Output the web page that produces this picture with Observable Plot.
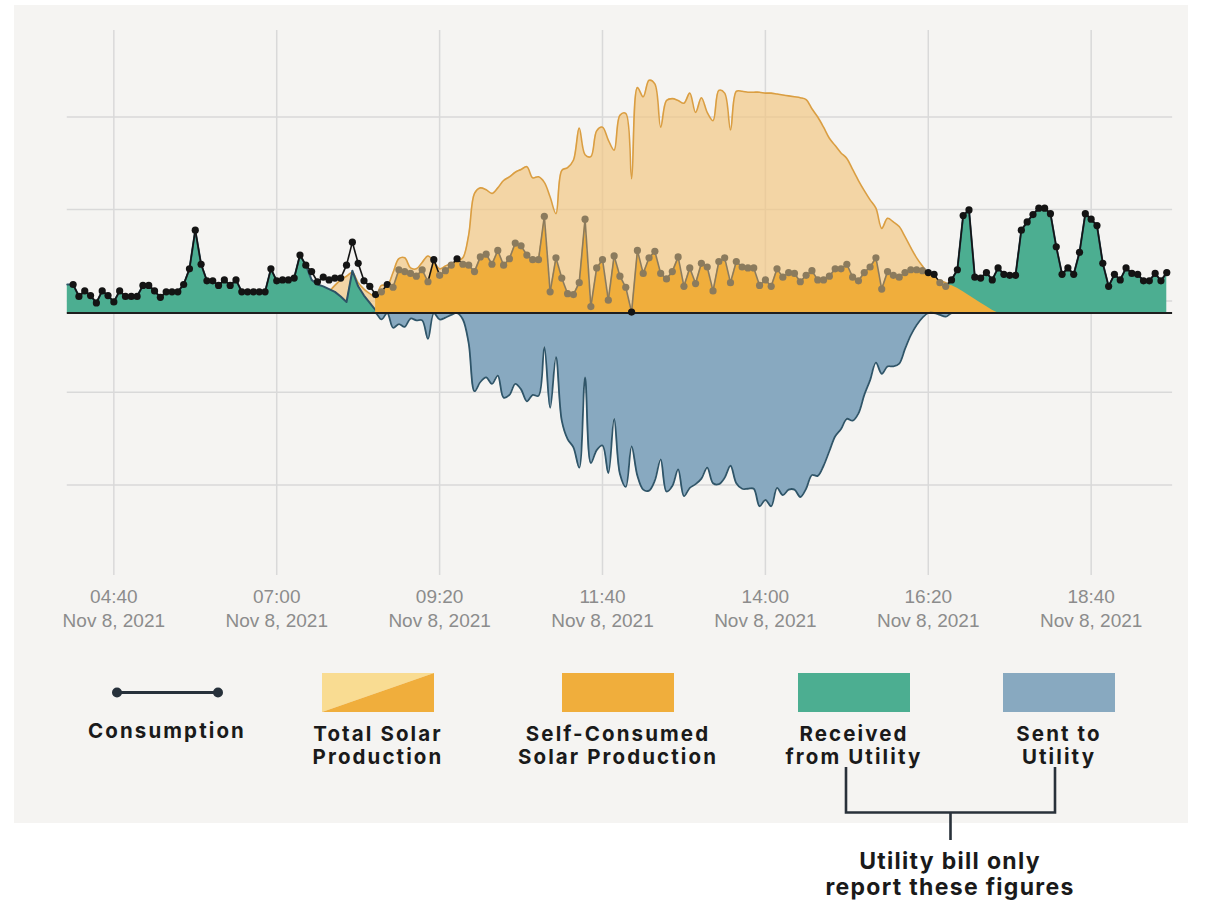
<!DOCTYPE html>
<html>
<head>
<meta charset="utf-8">
<script src="https://cdn.jsdelivr.net/npm/d3@7"></script>
<script src="https://cdn.jsdelivr.net/npm/@observablehq/plot@0.6"></script>
<style>
  html, body { margin: 0; padding: 0; background: #ffffff; }
  body { width: 1220px; height: 900px; position: relative; overflow: hidden; }
  #panel { position: absolute; left: 14px; top: 5px; width: 1174px; height: 818px; background: #f5f4f2; }
  #chart { position: absolute; left: 0; top: 0; }
  #overlay { position: absolute; left: 0; top: 0; }
</style>
</head>
<body>
<div id="panel"><div id="chart"></div></div>
<svg id="overlay" width="1220" height="900"></svg>
<script>
// ---- data: 5-minute readings, Nov 8 2021, from 04:00 to 19:45 (kW) ----
const START_LABEL = "04:00";
const END_LABEL = "19:50";           // end of the x axis
const SELF_START_LABEL = "08:25";    // first reading of self-consumed solar

const consumption = [null,
  0.31, 0.18, 0.24, 0.19, 0.11, 0.24, 0.19, 0.12, 0.24, 0.18,
  0.18, 0.18, 0.30, 0.30, 0.24, 0.17, 0.23, 0.23, 0.23, 0.31,
  0.48, 0.90, 0.53, 0.35, 0.35, 0.30, 0.36, 0.30, 0.36, 0.23,
  0.23, 0.23, 0.23, 0.23, 0.48, 0.35, 0.36, 0.36, 0.38, 0.63,
  0.52, 0.45, 0.34, 0.39, 0.36, 0.38, 0.38, 0.52, 0.77, 0.54,
  0.35, 0.29, 0.20, 0.23, 0.31, 0.28, 0.47, 0.45, 0.43, 0.40,
  0.47, 0.34, 0.58, 0.41, 0.46, 0.52, 0.59, 0.53, 0.52, 0.45,
  0.61, 0.64, 0.53, 0.68, 0.52, 0.59, 0.76, 0.73, 0.63, 0.58,
  0.58, 1.05, 0.23, 0.60, 0.38, 0.21, 0.20, 0.33, 1.02, 0.07,
  0.49, 0.58, 0.14, 0.62, 0.40, 0.28, 0.01, 0.68, 0.43, 0.60,
  0.67, 0.43, 0.37, 0.45, 0.61, 0.29, 0.49, 0.32, 0.54, 0.50,
  0.24, 0.56, 0.60, 0.33, 0.56, 0.50, 0.49, 0.49, 0.30, 0.36,
  0.29, 0.48, 0.39, 0.44, 0.43, 0.34, 0.41, 0.46, 0.36, 0.36,
  0.40, 0.48, 0.48, 0.53, 0.39, 0.35, 0.44, 0.50, 0.60, 0.26,
  0.45, 0.41, 0.39, 0.44, 0.47, 0.47, 0.46, 0.44, 0.42, 0.33,
  0.29, 0.36, 0.47, 1.06, 1.12, 0.39, 0.38, 0.44, 0.36, 0.49,
  0.42, 0.41, 0.41, 0.90, 0.99, 1.07, 1.14, 1.14, 1.08, 0.72,
  0.42, 0.49, 0.42, 0.66, 1.08, 1.02, 0.95, 0.54, 0.29, 0.42,
  0.36, 0.49, 0.43, 0.42, 0.35, 0.35, 0.43, 0.35, 0.44
];

const receivedMorning = [0.31,
  0.31, 0.18, 0.24, 0.19, 0.11, 0.24, 0.19, 0.12, 0.24, 0.18,
  0.18, 0.18, 0.30, 0.30, 0.24, 0.17, 0.23, 0.23, 0.23, 0.31,
  0.48, 0.90, 0.53, 0.35, 0.35, 0.30, 0.36, 0.30, 0.36, 0.23,
  0.23, 0.23, 0.23, 0.23, 0.48, 0.35, 0.36, 0.36, 0.38, 0.63,
  0.52, 0.36, 0.31, 0.29, 0.26, 0.23, 0.18, 0.12, 0.46, 0.29,
  0.19, 0.11, 0.03, 0
];                                   // 04:00 .. 08:30
const receivedEvening = [
  0.29, 0.36, 0.47, 1.06, 1.12, 0.39, 0.38, 0.44, 0.36, 0.49,
  0.42, 0.41, 0.41, 0.90, 0.99, 1.07, 1.14, 1.14, 1.08, 0.72,
  0.42, 0.49, 0.42, 0.66, 1.08, 1.02, 0.95, 0.54, 0.29, 0.42,
  0.36, 0.49, 0.43, 0.42, 0.35, 0.35, 0.43, 0.35, 0.44
];                                   // 16:35 .. 19:45

const solarProduction = [            // 07:45 .. 17:40
  0.23, 0.30, 0.36, 0.40, 0.44, 0.33,
  0.26, 0.21, 0.18, 0.30, 0.30, 0.44, 0.59, 0.60, 0.49, 0.48,
  0.55, 0.62, 0.56, 0.48, 0.51, 0.54, 0.56, 0.60, 0.85, 1.30,
  1.36, 1.34, 1.30, 1.36, 1.44, 1.48, 1.53, 1.56, 1.59, 1.47,
  1.48, 1.42, 1.26, 1.08, 1.55, 1.58, 1.66, 2.01, 1.72, 1.70,
  1.98, 2.02, 1.88, 1.77, 2.15, 2.17, 1.46, 2.45, 2.35, 2.53,
  2.49, 2.02, 2.31, 2.33, 2.31, 2.28, 2.39, 2.18, 2.34, 2.18,
  2.09, 2.42, 2.39, 1.99, 2.41, 2.41, 2.40, 2.40, 2.40, 2.39,
  2.39, 2.38, 2.37, 2.36, 2.35, 2.34, 2.32, 2.22, 2.13, 2.02,
  1.90, 1.82, 1.74, 1.68, 1.56, 1.44, 1.33, 1.23, 1.14, 0.92,
  1.03, 0.99, 0.94, 0.83, 0.71, 0.60, 0.51, 0.43, 0.39, 0.35,
  0.33, 0.30, 0.27, 0.23, 0.19, 0.15, 0.11, 0.07, 0.03, 0
];
const SOLAR_START_LABEL = "07:45";
const EVENING_START_LABEL = "16:35";

const tickLabels = ["04:40", "07:00", "09:20", "11:40", "14:00", "16:20", "18:40"];
const gridValues = [2.13, 1.125, 0.13, -0.86, -1.87];

const legendLabels = [["Consumption"], ["Total Solar", "Production"], ["Self-Consumed", "Solar Production"], ["Received", "from Utility"], ["Sent to", "Utility"]];
const noteLines = ["Utility bill only", "report these figures"];

// ---- build table ----
const STEP = 5 * 60000;
const at = s => { const [h, m] = s.split(":").map(Number); return Date.UTC(2021, 10, 8, h, m); };
const t0 = at(START_LABEL);
const idx = s => Math.round((at(s) - t0) / STEP);
const solarStart = idx(SOLAR_START_LABEL), eveningStart = idx(EVENING_START_LABEL), selfStart = idx(SELF_START_LABEL);

const rows = consumption.map((c, i) => {
  const solar = (i >= solarStart && i < solarStart + solarProduction.length) ? solarProduction[i - solarStart] : null;
  let received = null;
  if (i < receivedMorning.length) received = receivedMorning[i];
  else if (i >= eveningStart && i < eveningStart + receivedEvening.length) received = receivedEvening[i - eveningStart];
  const hasBoth = solar != null && c != null;
  return {
    time: new Date(t0 + i * STEP),
    consumption: c,
    solar,
    received,
    under: hasBoth && c <= solar,
    inside: hasBoth && c <= solar && c > 0.02,
    self: (hasBoth && i >= selfStart) ? Math.min(c, solar) : null,
    sent: hasBoth ? Math.max(0, solar - c) : null
  };
});

const segs = [];
for (let i = 0; i < rows.length - 1; i++) {
  const a = rows[i], b = rows[i + 1];
  if (a.consumption == null || b.consumption == null) continue;
  segs.push({t1: a.time, t2: b.time, c1: a.consumption, c2: b.consumption, inside: a.under && b.under});
}
const pts = rows.filter(d => d.consumption != null);

const BLACK = "#141414", BROWN = "#8b7b5d";
const ticks = tickLabels.map(s => new Date(at(s)));
const fmtTime = d3.utcFormat("%H:%M"), fmtDay = d3.utcFormat("%b %-d, %Y");

const chart = Plot.plot({
  width: 1174,
  height: 645,
  marginLeft: 52.8,
  marginRight: 15.9,
  marginTop: 25,
  marginBottom: 75,
  style: {background: "transparent", fontFamily: "'Liberation Sans', Arial, sans-serif", fontSize: "19px", color: "#8c8c8c", overflow: "visible"},
  x: {type: "utc", domain: [new Date(t0), new Date(at(END_LABEL))], axis: null},
  y: {domain: [-2.853, 3.0707], axis: null},
  color: {type: "identity"},
  marks: [
    Plot.gridX(ticks, {stroke: "#d9d9d9", strokeOpacity: 1, strokeWidth: 1.5}),
    Plot.gridY(gridValues, {stroke: "#d9d9d9", strokeOpacity: 1, strokeWidth: 1.5}),
    Plot.areaY(rows, {x: "time", y1: 0, y2: "solar", fill: "#f1c680", fillOpacity: 0.68, curve: "catmull-rom"}),
    Plot.lineY(rows, {x: "time", y: "solar", stroke: "#da9e42", strokeWidth: 1.6, curve: "catmull-rom"}),
    Plot.areaY(rows, {x: "time", y1: 0, y2: "received", fill: "#4cae91"}),
    Plot.lineY(rows, {x: "time", y: "received", stroke: "#2e5366", strokeWidth: 2}),
    Plot.areaY(rows, {x: "time", y1: 0, y2: "self", fill: "#f0ae3c"}),
    Plot.areaY(rows, {x: "time", y1: 0, y2: d => d.sent == null ? null : -d.sent, fill: "#88a9c0", curve: "catmull-rom"}),
    Plot.lineY(rows, {x: "time", y: d => d.sent == null ? null : -d.sent, stroke: "#2f5569", strokeWidth: 1.8, curve: "catmull-rom"}),
    Plot.ruleY([0], {stroke: "#1e1e1e", strokeWidth: 2}),
    Plot.link(segs, {x1: "t1", y1: "c1", x2: "t2", y2: "c2", stroke: d => d.inside ? BROWN : BLACK, strokeWidth: 1.6}),
    Plot.dot(pts, {x: "time", y: "consumption", r: 3.6, fill: d => d.inside ? BROWN : BLACK, stroke: "none"}),
    Plot.axisX(ticks, {
      tickSize: 0, tickPadding: 10.8, fontSize: 19, lineHeight: 1.25, fill: "#8c8c8c",
      tickFormat: d => `${fmtTime(d)}\n${fmtDay(d)}`
    })
  ]
});
document.getElementById("chart").appendChild(chart);

// ---- legend and note (outside the plot svg) ----
const svg = d3.select("#overlay");
const font = "Inter, 'Open Sans', sans-serif";
const swatchY = 673, swatchH = 39;
const swatches = [
  {x: 322, type: "split"},
  {x: 562, fill: "#f0ae3c"},
  {x: 798, fill: "#4cae91"},
  {x: 1003, fill: "#88a9c0"}
];
// consumption symbol
svg.append("line").attr("x1", 117).attr("x2", 218).attr("y1", 692.5).attr("y2", 692.5).attr("stroke", "#27313b").attr("stroke-width", 3);
[117, 218].forEach(x => svg.append("circle").attr("cx", x).attr("cy", 692.5).attr("r", 5).attr("fill", "#27313b"));
swatches.forEach(s => {
  if (s.type === "split") {
    svg.append("path").attr("d", `M${s.x},${swatchY}H${s.x + 112}L${s.x},${swatchY + swatchH}Z`).attr("fill", "#f9dc92");
    svg.append("path").attr("d", `M${s.x + 112},${swatchY}V${swatchY + swatchH}H${s.x}Z`).attr("fill", "#f0ae3c");
  } else {
    svg.append("rect").attr("x", s.x).attr("y", swatchY).attr("width", 112).attr("height", swatchH).attr("fill", s.fill);
  }
});
const labelCenters = [167, 378, 618, 854, 1059];
legendLabels.forEach((lines, i) => {
  const base = lines.length === 1 ? 738 : 740.5;
  const text = svg.append("text").attr("y", base)
    .attr("text-anchor", "middle").attr("font-family", font).attr("font-weight", 700)
    .attr("font-size", 20.5).attr("letter-spacing", "2.1px").attr("fill", "#1a1a1a");
  lines.forEach((t, j) => {
    text.append("tspan").attr("x", labelCenters[i]).attr("dy", j === 0 ? 0 : 23).text(t);
  });
});
// bracket
svg.append("path").attr("d", "M846,767V812.5H1055V767M950.5,812.5V840")
  .attr("fill", "none").attr("stroke", "#29313a").attr("stroke-width", 2.6);
const note = svg.append("text").attr("y", 868.5)
  .attr("text-anchor", "middle").attr("font-family", font).attr("font-weight", 700)
  .attr("font-size", 23).attr("letter-spacing", "1.3px").attr("fill", "#1a1a1a");
noteLines.forEach((t, j) => note.append("tspan").attr("x", 950).attr("dy", j === 0 ? 0 : 26.5).text(t));
if (consumption.length !== 190) {
  svg.append("text").attr("x", 20).attr("y", 20).attr("fill", "red").text("length " + consumption.length);
}
</script>
</body>
</html>
